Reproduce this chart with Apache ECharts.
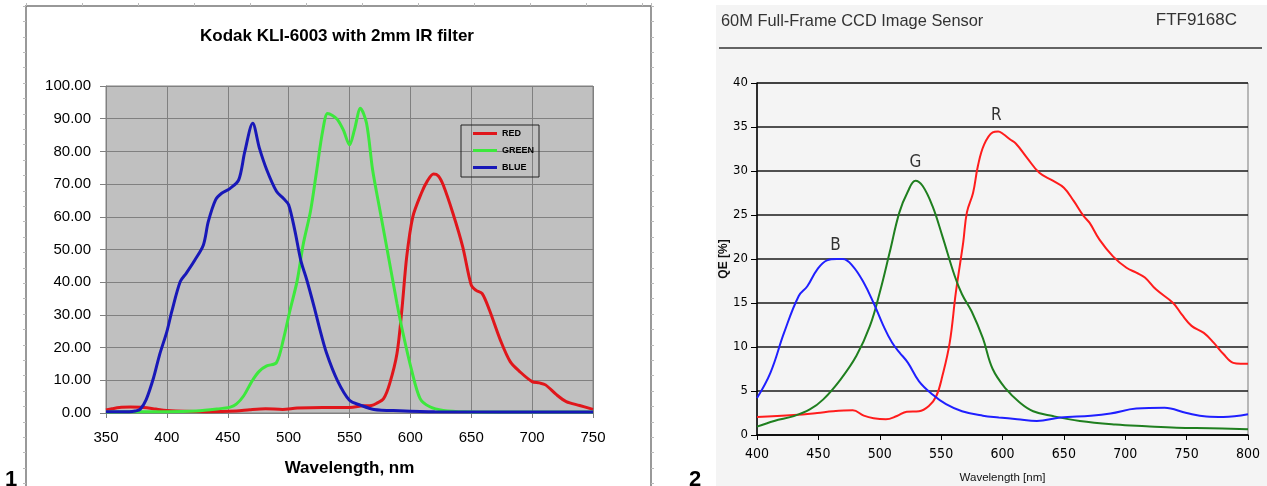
<!DOCTYPE html>
<html>
<head>
<meta charset="utf-8">
<script src="https://cdn.jsdelivr.net/npm/echarts@6/dist/echarts.min.js"></script>
<style>
html,body{margin:0;padding:0;background:#fff;}
#c{width:1267px;height:486px;}
</style>
</head>
<body>
<div id="c"></div>
<script>
// ---------- Chart 1: Kodak KLI-6003 (wavelength nm, response) ----------
const kodakRed = [[350,0.9],[355,1.3],[361,1.7],[370,1.8],[381,1.7],[391,1.2],[400,0.8],[415,0.5],[433,0.4],[457,0.6],[468,1.0],[481,1.3],[495,1.1],[507,1.5],[528,1.7],[550,1.7],[561,2.2],[568,2.3],[572,2.9],[578,4.4],[583,9],[589,18.2],[593,31.5],[597,47.8],[602,60],[609,67.2],[614,71],[619,73.1],[623,72.5],[627,69.7],[635,61],[643,50.8],[650,39.1],[654,37.5],[659,36.5],[665,31.4],[674,22.2],[682,15.7],[690,12.6],[700,9.6],[706,9.2],[711,8.6],[720,5.6],[728,3.5],[739,2.3],[750,1.1]];
const kodakGreen = [[350,0.3],[369,0.4],[400,0.4],[424,0.6],[441,1.2],[452,1.8],[457,2.7],[463,5.2],[470,9.8],[476,12.8],[482,14.4],[490,15.4],[496,23],[501,31.2],[507,40.4],[512,51.6],[518,61.8],[523,74],[528,86.3],[532,91.6],[536,91],[540,89.8],[545,86.5],[550,82],[554,86.5],[559,93.2],[564,88.6],[569,74.3],[575,62],[582,47.8],[589,33.5],[594,24.3],[601,13.1],[608,4.4],[616,1.9],[627,0.8],[645,0.4],[700,0.3],[750,0.3]];
const kodakBlue = [[350,0.4],[369,0.4],[374,0.6],[378,1.1],[383,4.1],[389,10.7],[394,17.8],[400,24.9],[404,31],[411,40.2],[416,42.8],[423,46.8],[430,51.4],[434,58.5],[440,65.2],[445,67.2],[452,68.7],[459,71.3],[464,79.9],[470.5,88.6],[476,81],[482,74.4],[490,67.8],[496,65.5],[500,63.7],[505,56],[510,46.7],[515,40.6],[521,32.4],[525,26.5],[531,18.5],[540,10],[550,3.9],[559,2.4],[570,1.1],[591,0.7],[620,0.4],[750,0.3]];
const kodakNames = ['RED','GREEN','BLUE'];

// ---------- Chart 2: FTF9168C QE (wavelength nm, QE %) ----------
const ftfRed = [[400,2.05],[430,2.27],[449,2.5],[462,2.7],[478,2.8],[487,2.2],[495,1.9],[505,1.78],[514,2.16],[522,2.65],[532,2.7],[540,3.3],[546,4.4],[551,6.7],[557,10.5],[562,16.2],[568,21.9],[571,25.3],[576,27.5],[580,30.6],[585,33],[592,34.4],[596.5,34.5],[600.5,34.2],[606,33.6],[611,33.1],[620,31.5],[630,29.8],[641,28.9],[650,28.1],[658,26.6],[666,24.9],[671,24.1],[679,22.2],[690,20.3],[701,19],[709,18.45],[716,17.9],[725,16.55],[739,15],[746,13.7],[754,12.4],[764,11.6],[772,10.5],[780,9.2],[788,8.2],[794,8.1],[800,8.1]];
const ftfGreen = [[400,0.95],[414,1.6],[430,2.15],[443,2.9],[454,4.05],[468,6.3],[481,9.0],[492,12.4],[500,16.2],[508,20.7],[516,25.3],[523,27.7],[529,28.9],[535,28.3],[543,26],[551,22.6],[561,18.1],[567,16],[575,14],[584,11],[592,7.5],[603,5.2],[614,3.7],[625,2.7],[641,2.15],[663,1.6],[692,1.2],[717,1.0],[742,0.83],[769,0.76],[800,0.65]];
const ftfBlue = [[400,4.2],[411,7.1],[422,11.6],[434,15.8],[441,16.9],[449,18.8],[457,19.85],[465,20],[470,20],[478,19.2],[487,17.3],[495,15],[503,12.4],[510,10.5],[516,9.4],[523,8.2],[532,6.1],[543,4.6],[554,3.5],[567,2.7],[584,2.2],[597,2.0],[612,1.8],[628,1.6],[647,2.0],[672,2.2],[688,2.45],[709,3.0],[732,3.1],[750,2.5],[766,2.1],[780,2.05],[800,2.35]];
const ftfLabels = ['B','G','R'];
const ftfLabelX = [464,529,595];
const ftfLabelY = [21.5,31,36.3];

const F1 = "'Liberation Sans', Arial, sans-serif";
const F2 = "'DejaVu Sans Condensed', 'Liberation Sans', sans-serif";

const chart = echarts.init(document.getElementById('c'), null, {renderer:'canvas'});
const option = {
  animation: false,
  backgroundColor: '#ffffff',
  graphic: [
    {type:'rect', z:-10, shape:{x:716,y:5,width:551,height:481}, style:{fill:'#f4f4f4'}},
    {type:'line', z:5, shape:{x1:719,y1:48,x2:1262,y2:48}, style:{stroke:'#333',lineWidth:1.5}}
  ],
  title: [
    {text:'Kodak KLI-6003 with 2mm IR filter', left:337, top:28, textAlign:'center', padding:0,
     textStyle:{fontFamily:F1, fontSize:17, fontWeight:'bold', color:'#000'}},
    {text:'60M Full-Frame CCD Image Sensor', left:721, top:13, padding:0,
     textStyle:{fontFamily:F1, fontSize:16.4, fontWeight:'normal', color:'#333'}},
    {text:'FTF9168C', right:30, top:12, padding:0,
     textStyle:{fontFamily:F1, fontSize:17, fontWeight:'normal', color:'#333'}},
    {text:'1', left:5, top:469, padding:0, textStyle:{fontFamily:F1, fontSize:22, fontWeight:'bold', color:'#000'}},
    {text:'2', left:689, top:469, padding:0, textStyle:{fontFamily:F1, fontSize:22, fontWeight:'bold', color:'#000'}}
  ],
  legend: {
    data: kodakNames, orient:'vertical', left:461, top:125,
    padding:[3,5,4,12], itemGap:6, itemWidth:24, itemHeight:3, icon:'rect',
    borderColor:'#222', borderWidth:1, backgroundColor:'rgba(0,0,0,0)',
    textStyle:{fontFamily:F1, fontSize:9, fontWeight:'bold', color:'#000', lineHeight:11}
  },
  grid: [
    {left:106, top:86, width:487, height:327, show:true, backgroundColor:'#c0c0c0', borderColor:'#808080', borderWidth:1, containLabel:false, outerBoundsMode:'none'},
    {left:757, top:83, width:491, height:352, show:true, backgroundColor:'rgba(0,0,0,0)', borderColor:'#7a7a7a', borderWidth:1, containLabel:false, outerBoundsMode:'none'},
    {left:26, top:6, width:625, height:490, show:false, containLabel:false, outerBoundsMode:'none'}
  ],
  xAxis: [
    {gridIndex:0, type:'value', min:350, max:750, interval:50, name:'Wavelength, nm', nameLocation:'middle', nameGap:47,
     nameTextStyle:{fontFamily:F1, fontSize:17, fontWeight:'bold', color:'#000'},
     axisLine:{lineStyle:{color:'#808080', width:1}}, axisTick:{length:5, lineStyle:{color:'#808080'}},
     axisLabel:{fontFamily:F1, fontSize:15, color:'#000', margin:17},
     splitLine:{show:true, lineStyle:{color:'#808080', width:1}}},
    {gridIndex:1, type:'value', min:400, max:800, interval:50, name:'Wavelength [nm]', nameLocation:'middle', nameGap:37,
     nameTextStyle:{fontFamily:F1, fontSize:11.5, color:'#111', verticalAlign:'top'},
     axisLine:{lineStyle:{color:'#000', width:1.5}}, axisTick:{length:5, lineStyle:{color:'#000'}},
     axisLabel:{fontFamily:F2, fontSize:14, color:'#000', margin:12},
     splitLine:{show:false}},
    {gridIndex:2, type:'value', position:'top', min:0, max:625, interval:56,
     axisLine:{lineStyle:{color:'#777', width:1.5}}, axisTick:{length:3, lineStyle:{color:'#bbb'}},
     axisLabel:{show:false}, splitLine:{show:false}}
  ],
  yAxis: [
    {gridIndex:0, type:'value', min:0, max:100, interval:10,
     axisLine:{show:true, lineStyle:{color:'#808080', width:1}}, axisTick:{show:true, length:6, lineStyle:{color:'#808080'}},
     axisLabel:{fontFamily:F1, fontSize:15, color:'#000', margin:15, formatter:v=>v.toFixed(2)},
     splitLine:{show:true, lineStyle:{color:'#808080', width:1}}},
    {gridIndex:1, type:'value', min:0, max:40, interval:5, name:'QE [%]', nameLocation:'middle', nameGap:21,
     nameTextStyle:{fontFamily:F1, fontSize:12, fontWeight:'bold', color:'#111'},
     axisLine:{show:true, lineStyle:{color:'#000', width:1.5}}, axisTick:{show:true, length:6, lineStyle:{color:'#000'}},
     axisLabel:{fontFamily:F2, fontSize:13, color:'#000', margin:9},
     splitLine:{show:true, lineStyle:{color:'#1a1a1a', width:1.5}}},
    {gridIndex:2, type:'value', position:'left', inverse:true, min:0, max:490, interval:15.4,
     axisLine:{show:true, lineStyle:{color:'#777', width:1.5}}, axisTick:{show:true, length:3, lineStyle:{color:'#bbb'}},
     axisLabel:{show:false}, splitLine:{show:false}},
    {gridIndex:2, type:'value', position:'right', inverse:true, min:0, max:490, interval:15.4,
     axisLine:{show:true, lineStyle:{color:'#777', width:1.5}}, axisTick:{show:true, length:3, lineStyle:{color:'#bbb'}},
     axisLabel:{show:false}, splitLine:{show:false}}
  ],
  series: [
    {name:'RED', type:'line', xAxisIndex:0, yAxisIndex:0, data:kodakRed, showSymbol:false, smooth:0.3,
     lineStyle:{color:'#e0161b', width:3}, itemStyle:{color:'#e0161b'}},
    {name:'GREEN', type:'line', xAxisIndex:0, yAxisIndex:0, data:kodakGreen, showSymbol:false, smooth:0.3,
     lineStyle:{color:'#3de83d', width:3}, itemStyle:{color:'#3de83d'}},
    {name:'BLUE', type:'line', xAxisIndex:0, yAxisIndex:0, data:kodakBlue, showSymbol:false, smooth:0.3,
     lineStyle:{color:'#1818b8', width:3}, itemStyle:{color:'#1818b8'}},
    {name:'R', type:'line', xAxisIndex:1, yAxisIndex:1, data:ftfRed, showSymbol:false, smooth:0.4,
     lineStyle:{color:'#ff1c1c', width:2}, itemStyle:{color:'#ff1c1c'}},
    {name:'G', type:'line', xAxisIndex:1, yAxisIndex:1, data:ftfGreen, showSymbol:false, smooth:0.4,
     lineStyle:{color:'#1f7f1f', width:2}, itemStyle:{color:'#1f7f1f'}},
    {name:'B', type:'line', xAxisIndex:1, yAxisIndex:1, data:ftfBlue, showSymbol:false, smooth:0.4,
     lineStyle:{color:'#1f1fff', width:2}, itemStyle:{color:'#1f1fff'}},
    {name:'labels', type:'scatter', xAxisIndex:1, yAxisIndex:1, symbolSize:0,
     data: ftfLabels.map((t,i)=>({value:[ftfLabelX[i], ftfLabelY[i]], name:t})),
     label:{show:true, position:'inside', formatter:p=>p.name, fontFamily:F2, fontSize:17, color:'#000'}}
  ]
};
chart.setOption(option);
</script>
</body>
</html>
